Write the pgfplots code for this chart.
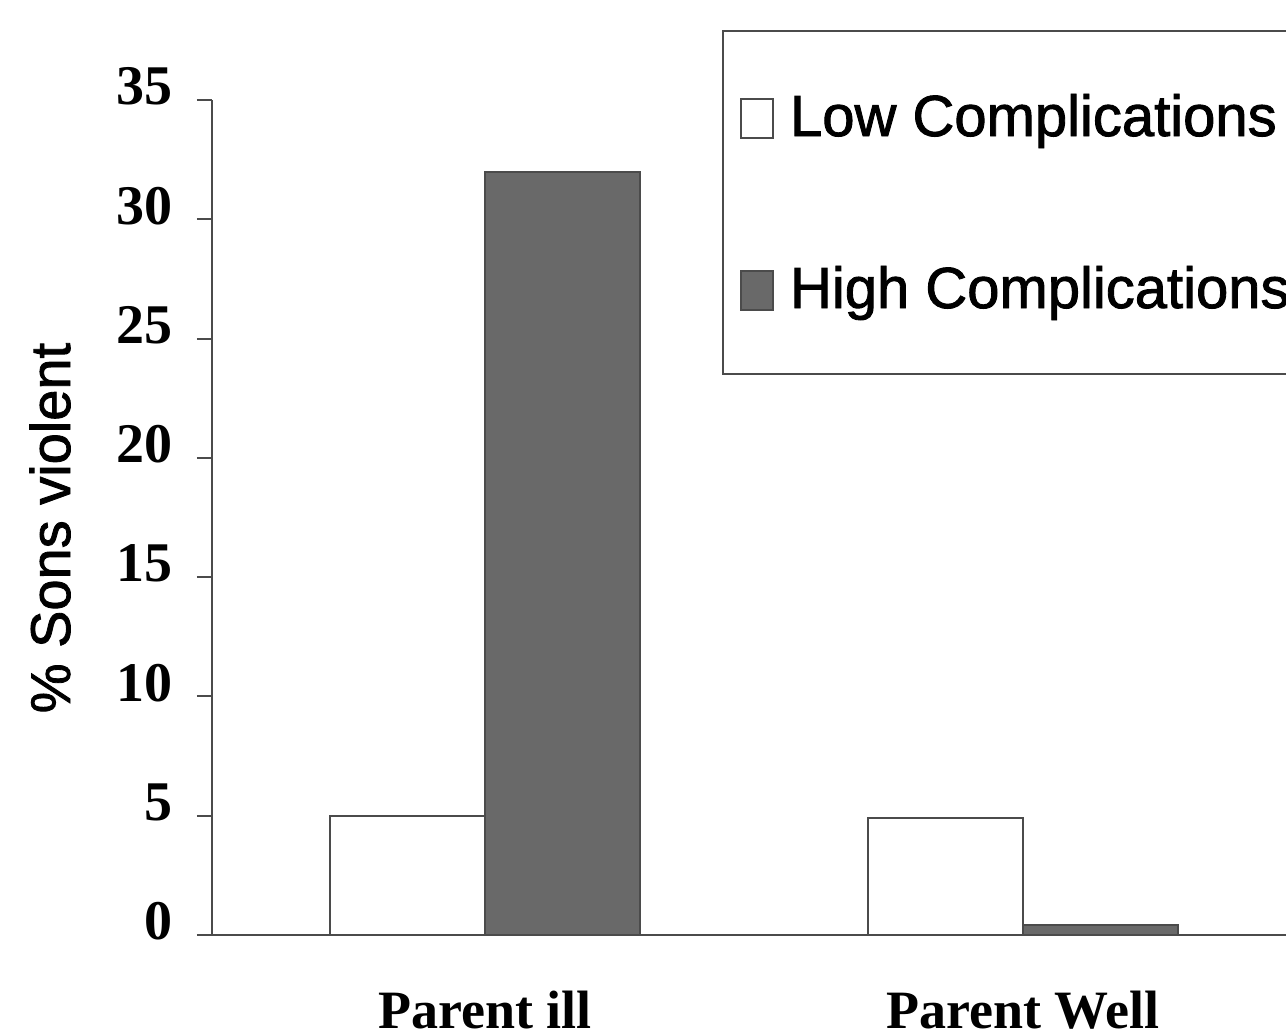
\documentclass[border=0pt]{standalone}
\usepackage{fontspec}
\setmainfont{Liberation Serif}
\newfontfamily\arialfont[FakeBold=1.5]{Liberation Sans}
\usepackage{pgfplots}
\pgfplotsset{compat=1.18}
\definecolor{barhigh}{RGB}{105,105,105}
\definecolor{edgegray}{RGB}{75,75,75}
\begin{document}
\begin{tikzpicture}
\useasboundingbox (-106pt,-49.5pt) rectangle (537pt,467.5pt);
\begin{axis}[
 at={(0,0)}, anchor=south west,
 scale only axis, width=537pt, height=417.5pt,
 xmin=-0.5074, xmax=1.4888, ymin=0, ymax=35,
 axis x line*=bottom, axis y line*=left,
 axis line style={draw=edgegray, line width=1pt},
 xtick={0,1}, xticklabels={Parent ill, Parent Well},
 major x tick style={draw=none},
 xticklabel style={font=\bfseries\fontsize{27pt}{27pt}\selectfont, anchor=base, yshift=-39pt, inner sep=0pt},
 ytick={0,5,10,15,20,25,30,35}, yticklabels={0,5,10,15,20,25,30,35},
 tick align=outside, major tick length=7.5pt,
 y tick style={draw=edgegray, line width=1pt},
 yticklabel style={font=\bfseries\fontsize{28pt}{28pt}\selectfont, anchor=east, inner sep=0pt, xshift=-12pt, yshift=6.75pt},
 ylabel={\% Sons violent},
 ylabel style={font=\arialfont\fontsize{28pt}{28pt}\selectfont, at={(axis description cs:-0.1322,0.4874)}, anchor=base},
 ybar, bar width=0.288,
 legend image code/.code={\draw[#1] (0pt,-1pt) rectangle (16pt,18.5pt);},
 legend style={at={(axis description cs:0.4749,1.0838)}, anchor=north west,
   draw=edgegray, line width=1pt, fill=white,
   font=\arialfont\fontsize{29pt}{29pt}\selectfont,
   inner xsep=8.5pt, inner ysep=31.5pt, row sep=63.5pt, column sep=8pt,
   nodes={inner sep=0pt, text height=21pt, text depth=0pt},
   cells={anchor=base west}},
]
\addplot[draw=edgegray, line width=1pt, fill=white, bar shift=-0.144] coordinates {(0,5.0) (1,4.9)};
\addlegendentry{Low Complications}
\addplot[draw=edgegray, line width=1pt, fill=barhigh, bar shift=0.144] coordinates {(0,32.0) (1,0.4)};
\addlegendentry{High Complications}
\end{axis}
\end{tikzpicture}
\end{document}
